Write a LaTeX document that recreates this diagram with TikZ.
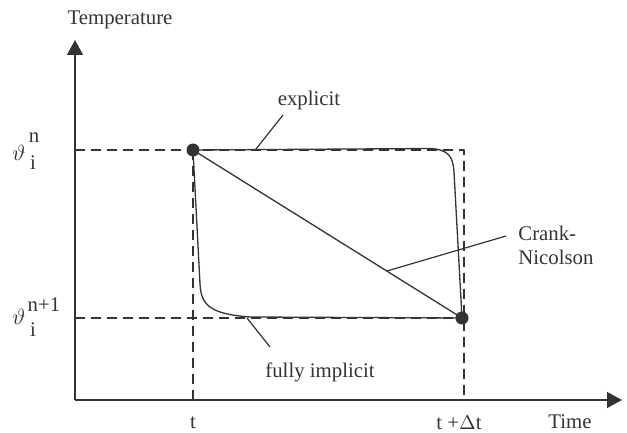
\documentclass[tikz,border=0pt]{standalone}
\usepackage{fontspec}
\setmainfont{Liberation Serif}
\usetikzlibrary{arrows.meta}

\begin{document}
\begin{tikzpicture}[x=0.5pt, y=-0.5pt, font=\fontsize{10.4}{12}\selectfont,
    line join=round, >={Triangle[length=7.5pt,width=8pt]}]

        \useasboundingbox (0,0) rectangle (627,433);

        \tikzset{
            axis/.style={draw=black!80, line width=0.7pt},
            guide/.style={draw=black!80, line width=0.55pt, dash pattern=on 5pt off 3pt},
            curve/.style={draw=black!80, line width=0.65pt},
            leader/.style={draw=black!80, line width=0.6pt},
            dot/.style={circle, fill=black!80, inner sep=0pt, minimum size=6.5pt},
            lbl/.style={inner sep=0pt, text=black!80}
        }

        % ==========================================
        % 1. Assi (Temperature / Time)
        % ==========================================
        \coordinate (O) at (75,400);
        \coordinate (ytip) at (75,40);
        \coordinate (xtip) at (622,400);
        \draw[axis, ->] (O) -- (ytip);
        \draw[axis, ->] (O) -- (xtip);
        \node[lbl] (ylabel) at (120,20) {Temperature};
        \node[lbl] (xlabel) at (570,422) {Time};

        % ==========================================
        % 2. Punti e linee guida tratteggiate
        % ==========================================
        \node[dot] (p1) at (193,150) {};
        \node[dot] (p2) at (462,318) {};
        \coordinate (yn)  at (75,150);
        \coordinate (yn1) at (75,318);
        \coordinate (c1)  at (464,150);
        \coordinate (tb)  at (193,400);
        \coordinate (tdb) at (464,400);
        \draw[guide] (yn) -- (p1.center) -- (c1) -- (tdb);
        \draw[guide] (yn1) -- (p2.center);
        \draw[guide] (p1.center) -- (tb);

        \node[lbl] (tlabel)  at (193,423) {t};
        \node[lbl] (tdlabel) at (459,423) {t +$\Delta$t};

        % ==========================================
        % 3. Etichette theta
        % ==========================================
        \node[lbl, scale=1.1] (thn)   at (19,153) {$\vartheta$};
        \node[lbl] (thnup) at (34,138) {n};
        \node[lbl] (thnlo) at (33,163) {i};
        \node[lbl, scale=1.1] (thm)   at (19,317) {$\vartheta$};
        \node[lbl] (thmup) at (44,305) {n+1};
        \node[lbl] (thmlo) at (33,330) {i};

        % ==========================================
        % 4. Schemi: explicit, fully implicit, Crank-Nicolson
        % ==========================================
        \draw[curve] (p1.center) -- (430,148.5)
            .. controls (449,149.5) and (453,157) .. (454,172) -- (p2.center);
        \draw[curve] (p1.center) -- (200,284)
            .. controls (201,305) and (210,314) .. (250,317) -- (p2.center);
        \draw[curve] (p1.center) -- (p2.center);

        % ==========================================
        % 5. Etichette con linee di richiamo
        % ==========================================
        \node[lbl] (explicit) at (309,100) {explicit};
        \node[lbl] (implicit) at (320,372) {fully implicit};
        \node[lbl, anchor=west, align=left] (cn) at (518,245) {Crank-\\Nicolson};

        \coordinate (ex0) at (256,149);
        \coordinate (ex1) at (283,115);
        \coordinate (im0) at (247,318);
        \coordinate (im1) at (270,347);
        \coordinate (cn0) at (387,271);
        \coordinate (cn1) at (506,236);
        \draw[leader] (ex0) -- (ex1);
        \draw[leader] (im0) -- (im1);
        \draw[leader] (cn0) -- (cn1);

    \end{tikzpicture}
\end{document}
